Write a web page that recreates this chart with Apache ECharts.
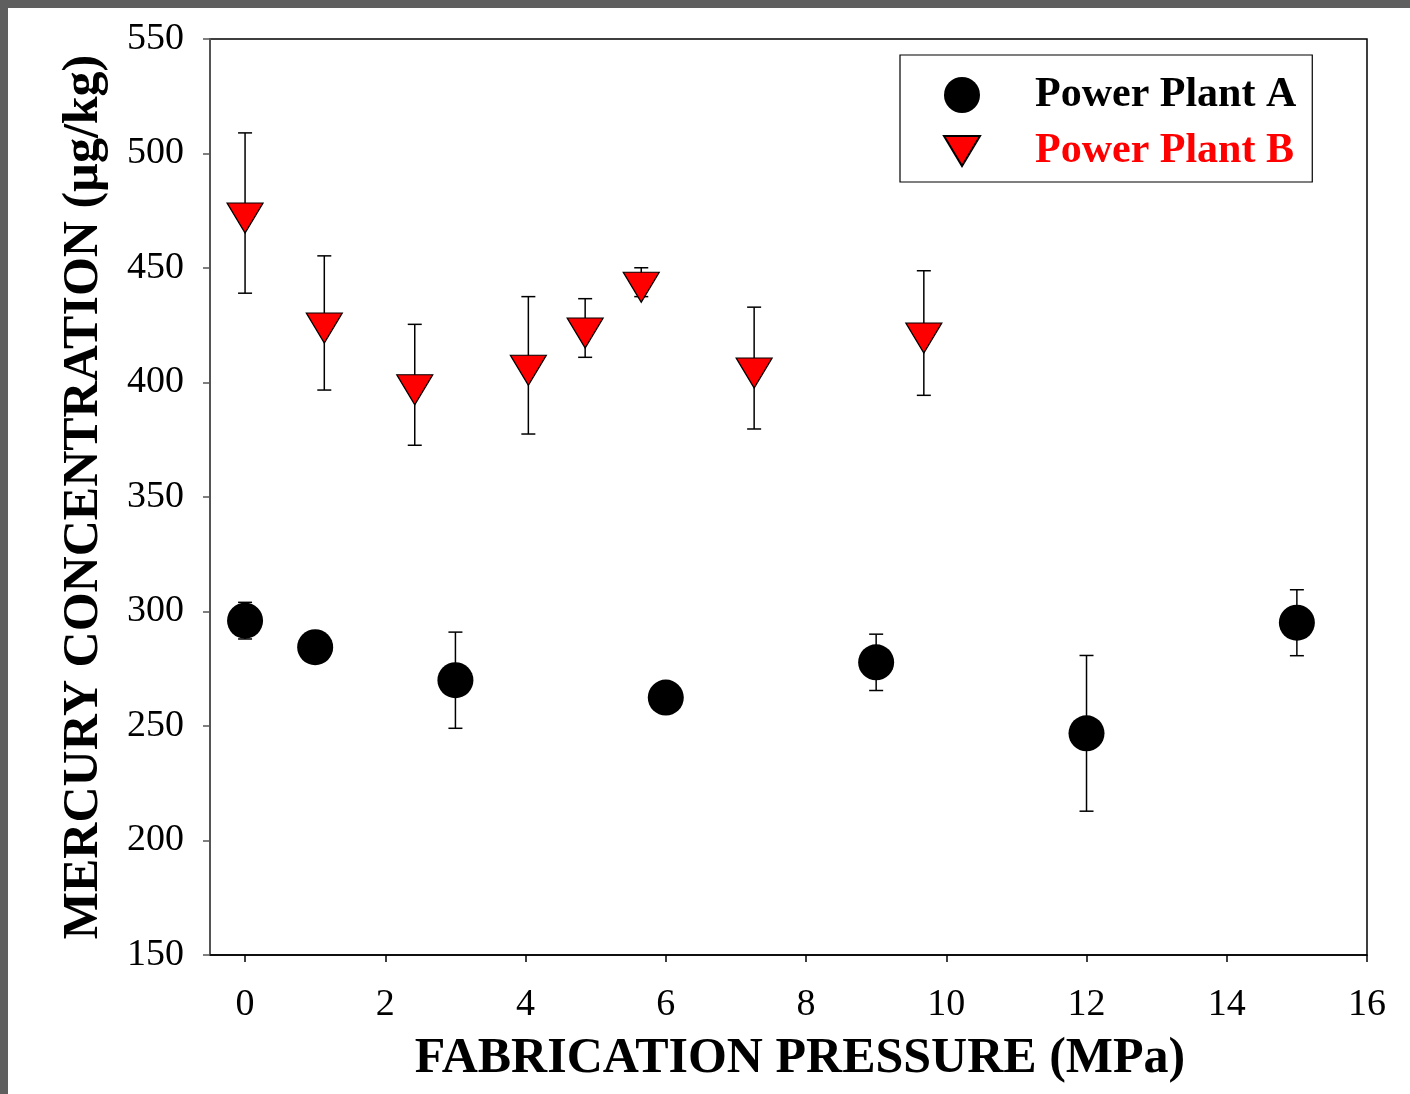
<!DOCTYPE html>
<html>
<head>
  <meta charset="utf-8"/>
  <script src="https://cdn.jsdelivr.net/npm/echarts@6/dist/echarts.min.js"></script>
  <style>
    html, body { margin: 0; padding: 0; background: #fff; }
    #chartmain { width: 1410px; height: 1094px; }
  </style>
</head>
<body>
  <div id="chartmain"></div>
  <script type="text/javascript">
    // 数据
    var xTicks = [0, 2, 4, 6, 8, 10, 12, 14, 16];
    var yTicks = [150, 200, 250, 300, 350, 400, 450, 500, 550];

    var xA = [0, 1, 3, 6, 9, 12, 15];
    var yA = [296, 284.4, 270, 262.4, 277.8, 246.8, 295.1];
    var errA = [8, 0, 21, 0, 12.3, 34, 14.4];

    var xB = [0, 1.13, 2.42, 4.04, 4.85, 5.65, 7.26, 9.68];
    var yB = [474, 426, 399, 407.5, 423.8, 443.8, 406.3, 421.6];
    var errB = [35, 29.3, 26.4, 30, 12.8, 6.3, 26.6, 27.2];

    var nameA = 'Power Plant A';
    var nameB = 'Power Plant B';
    var serif = 'Liberation Serif, Times New Roman, serif';

    function pts(xs, ys) {
      var out = [];
      for (var i = 0; i < xs.length; i++) out.push([xs[i], ys[i]]);
      return out;
    }
    function bars(xs, ys, es) {
      var out = [];
      for (var i = 0; i < xs.length; i++) {
        if (es[i] > 0) out.push([xs[i], ys[i] - es[i], ys[i] + es[i]]);
      }
      return out;
    }

    // 误差线
    function renderErr(params, api) {
      var lo = api.coord([api.value(0), api.value(1)]);
      var hi = api.coord([api.value(0), api.value(2)]);
      var cap = 7;
      var st = { stroke: '#000', lineWidth: 1.5 };
      return {
        type: 'group',
        children: [
          { type: 'line', shape: { x1: lo[0], y1: lo[1], x2: hi[0], y2: hi[1] }, style: st },
          { type: 'line', shape: { x1: lo[0] - cap, y1: lo[1], x2: lo[0] + cap, y2: lo[1] }, style: st },
          { type: 'line', shape: { x1: hi[0] - cap, y1: hi[1], x2: hi[0] + cap, y2: hi[1] }, style: st }
        ]
      };
    }

    var downTri = 'path://M0,0L36,0L18,30Z';

    var option = {
      backgroundColor: '#fff',
      animation: false,
      grid: {
        left: 210, top: 39, width: 1157, height: 916,
        show: true, borderColor: '#000', borderWidth: 1.5, backgroundColor: 'transparent'
      },
      legend: {
        orient: 'vertical',
        left: 900, top: 55,
        padding: [19, 16, 10, 43],
        itemWidth: 36, itemHeight: 36,
        itemGap: 14,
        borderColor: '#000', borderWidth: 1.2,
        backgroundColor: '#fff',
        data: [
          { name: nameA, icon: 'circle' },
          { name: nameB, icon: downTri, textStyle: { color: '#ff0000' } }
        ],
        textStyle: {
          fontFamily: serif, fontWeight: 'bold', fontSize: 42, color: '#000',
          padding: [0, 0, 0, 50]
        }
      },
      xAxis: {
        type: 'value', min: -0.5, max: 16,
        axisLine: { show: true, onZero: false, lineStyle: { color: '#000', width: 1.5 } },
        axisTick: { show: true, inside: false, length: 7, customValues: xTicks, lineStyle: { color: '#000', width: 1.5 } },
        axisLabel: { customValues: xTicks, margin: 31, fontFamily: serif, fontSize: 38, color: '#000' },
        splitLine: { show: false }
      },
      yAxis: {
        type: 'value', min: 150, max: 550, interval: 50,
        axisLine: { show: true, onZero: false, lineStyle: { color: '#555', width: 2 } },
        axisTick: { show: true, inside: false, length: 7, lineStyle: { color: '#555', width: 1.5 } },
        axisLabel: { margin: 26, fontFamily: serif, fontSize: 38, color: '#000' },
        splitLine: { show: false }
      },
      graphic: [
        { type: 'rect', left: 0, top: 0, shape: { width: 1410, height: 8 }, style: { fill: '#5f5f5f' } },
        { type: 'rect', left: 0, top: 0, shape: { width: 8, height: 1094 }, style: { fill: '#5f5f5f' } },
        {
          type: 'text', x: 800, y: 1059,
          style: {
            text: 'FABRICATION PRESSURE (MPa)', fill: '#000',
            font: 'bold 50px ' + serif, align: 'center', verticalAlign: 'middle'
          }
        },
        {
          type: 'text', x: 84, y: 497, rotation: Math.PI / 2,
          style: {
            text: 'MERCURY CONCENTRATION (\u00b5g/kg)', fill: '#000',
            font: 'bold 50px ' + serif, align: 'center', verticalAlign: 'middle'
          }
        }
      ],
      series: [
        {
          type: 'custom', name: 'errA', renderItem: renderErr, z: 1,
          encode: { x: 0, y: [1, 2] }, data: bars(xA, yA, errA), silent: true
        },
        {
          type: 'custom', name: 'errB', renderItem: renderErr, z: 1,
          encode: { x: 0, y: [1, 2] }, data: bars(xB, yB, errB), silent: true
        },
        {
          type: 'scatter', name: nameA, z: 3,
          symbol: 'circle', symbolSize: 36,
          itemStyle: { color: '#000', opacity: 1 },
          data: pts(xA, yA)
        },
        {
          type: 'scatter', name: nameB, z: 3,
          symbol: downTri, symbolSize: [36, 30], symbolOffset: [0, 5],
          itemStyle: { color: '#ff0000', borderColor: '#000', borderWidth: 1.2, opacity: 1 },
          data: pts(xB, yB)
        }
      ]
    };

    var myChart = echarts.init(document.getElementById('chartmain'));
    myChart.setOption(option);
  </script>
</body>
</html>
